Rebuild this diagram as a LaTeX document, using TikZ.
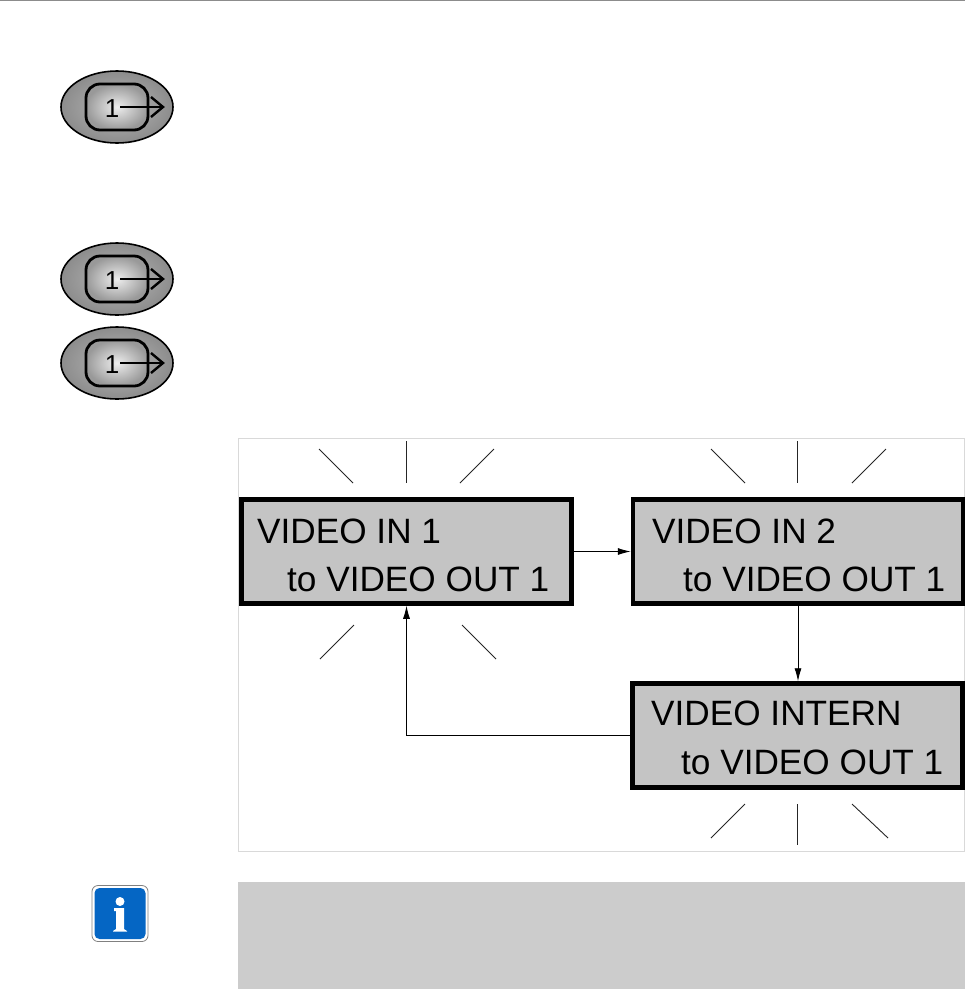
\documentclass[tikz,border=0pt]{standalone}
\usepackage{fontspec}
\setmainfont{Liberation Sans}
\usetikzlibrary{arrows.meta,shapes.geometric}
\definecolor{lcd}{gray}{0.77}
\definecolor{infoblue}{RGB}{5,102,196}
\tikzset{x=1pt,y=-1pt,
 lcdbox/.style={draw=black,line width=4.5pt,fill=lcd,minimum width=330pt,minimum height=104pt,inner sep=0pt},
 ray/.style={draw=black!85,line width=.9pt},
 flow/.style={draw=black,line width=.9pt,-{Latex[length=13pt,width=7pt]}},
 lcdtxt/.style={font=\fontsize{35.2}{40}\selectfont,anchor=base west,inner sep=0pt,text=black},
 shell/.style={draw=black,line width=1.6pt,ellipse,minimum width=112pt,minimum height=72pt,inner sep=0pt,inner color=black!28,outer color=black!45},
 key/.style={draw=black,line width=2.8pt,rounded corners=14pt,minimum width=62pt,minimum height=46pt,inner sep=0pt,inner color=black!7,outer color=black!40},
}
\newcommand{\btn}[3]{%
 \node[shell] (#1s) at (#2,#3) {};
 \node[key] (#1k) at (#2,#3) {};
 \node[font=\fontsize{26}{28}\selectfont,inner sep=0pt,text=black] (#1n) at (#2-5,#3+2) {1};
 \coordinate (#1e) at (#2+46,#3);
 \draw[black,line width=1.5pt] (#1n.east)++(1,-2) -- (#1e);
 \draw[black,line width=2.4pt,line join=miter] ([shift={(-12,-10)}]#1e) -- (#1e) -- ([shift={(-12,10)}]#1e);
}
\begin{document}
\begin{tikzpicture}
\useasboundingbox (0,0) rectangle (965,989);
\fill[white] (0,0) rectangle (965,989);
\draw[black!45,line width=1pt] (0,.5) -- (965,.5);
\btn{a}{117}{107}
\btn{b}{117}{279}
\btn{c}{117}{363}
\draw[black!15,line width=1pt] (238.5,438.5) rectangle (964.5,851.5);
% boxes
\node[lcdbox] (b1) at (406.5,551.5) {};
\node[lcdbox] (b2) at (798,551.5) {};
\node[lcdbox] (b3) at (797.5,735.5) {};
\node[lcdtxt] (t1a) at (257,543) {VIDEO IN 1};
\node[lcdtxt] (t1b) at (287,591) {to VIDEO OUT 1};
\node[lcdtxt] (t2a) at (652,543) {VIDEO IN 2};
\node[lcdtxt] (t2b) at (683,591) {to VIDEO OUT 1};
\node[lcdtxt] (t3a) at (651,725) {VIDEO INTERN};
\node[lcdtxt] (t3b) at (681,774) {to VIDEO OUT 1};
% connectors
\draw[flow] (b1.east) -- (b2.west);
\draw[flow] (b2.south) -- (b2.south |- b3.north);
\draw[flow] (b3.west) -| (b1.south);
% rays box 1
\draw[ray] (319,449) -- (353,483);
\draw[ray] (406,441) -- (406,483);
\draw[ray] (494,449) -- (460,483);
\draw[ray] (354,625) -- (320,659);
\draw[ray] (462,625) -- (496,659);
% rays box 2
\draw[ray] (711,449) -- (745,483);
\draw[ray] (797,441) -- (797,483);
\draw[ray] (886,449) -- (852,483);
% rays box 3
\draw[ray] (745,804) -- (711,838);
\draw[ray] (797,804) -- (797,845);
\draw[ray] (852,804) -- (888,838);
% note
\fill[black!20] (238,882) rectangle (965,989);
\node[draw=black!50,line width=.8pt,fill=white,rounded corners=6pt,minimum size=56pt,inner sep=0pt] (io) at (120,913.5) {};
\node[fill=infoblue,rounded corners=5pt,minimum size=51pt,inner sep=0pt] (ii) at (120,913.5) {};
\fill[white] (120,901.5) circle (4.5pt);
\fill[white] (114,908) -- (124,908) -- (124,929) -- (127,931) -- (127,931.5) -- (113,931.5) -- (113,931) -- (116,929) -- (116,911) -- (114,911) -- cycle;
\end{tikzpicture}
\end{document}
